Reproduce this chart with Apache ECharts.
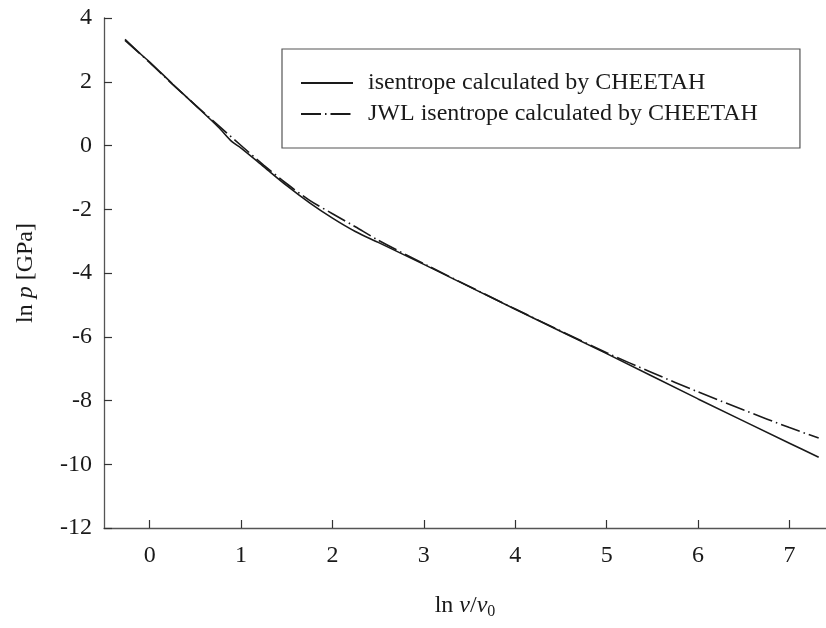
<!DOCTYPE html>
<html>
<head>
<meta charset="utf-8">
<script src="https://cdn.jsdelivr.net/npm/echarts@6/dist/echarts.min.js"></script>
<style>
  html, body { margin: 0; padding: 0; background: #fff; }
  #chart { width: 826px; height: 628px; }
</style>
</head>
<body>
<div id="chart"></div>
<script>
// isentrope calculated by CHEETAH (ln v/v0, ln p)
var cheetahX = [-0.27, -0.1, 0, 0.25, 0.5, 0.75, 0.9, 1.0, 1.25, 1.5, 1.75, 2.0, 2.25, 2.5, 3, 4, 5, 6, 7, 7.32]
var cheetahY = [3.33, 2.87, 2.62, 1.93, 1.26, 0.58, 0.12, -0.08, -0.67, -1.26, -1.8, -2.28, -2.7, -3.04, -3.73, -5.14, -6.53, -7.95, -9.34, -9.78]
// JWL isentrope calculated by CHEETAH
var jwlX = [-0.27, 0, 0.25, 0.5, 0.75, 1.0, 1.25, 1.5, 1.75, 2.0, 2.25, 2.5, 3, 4, 5, 5.5, 6, 6.5, 7, 7.32]
var jwlY = [3.3, 2.6, 1.92, 1.27, 0.63, 0.0, -0.62, -1.2, -1.72, -2.14, -2.55, -2.97, -3.71, -5.13, -6.5, -7.13, -7.73, -8.3, -8.85, -9.18]
var xTicks = [0, 1, 2, 3, 4, 5, 6, 7]

var seriesNames = ['isentrope calculated by CHEETAH', 'JWL isentrope calculated by CHEETAH']

function pairs(xs, ys) {
  return xs.map(function (x, i) { return [x, ys[i]] })
}

var font = 'Liberation Serif'
var ink = '#1a1a1a'

var chart = echarts.init(document.getElementById('chart'))
chart.setOption({
  animation: false,
  backgroundColor: '#fff',
  grid: {
    left: 104,
    right: 0,
    top: 18,
    bottom: 100
  },
  legend: {
    data: seriesNames,
    orient: 'vertical',
    left: 282,
    top: 49,
    padding: [22, 42, 22, 18],
    itemGap: 7,
    itemWidth: 52,
    itemHeight: 23,
    borderColor: '#555',
    borderWidth: 1.2,
    itemStyle: { opacity: 0 },
    textStyle: {
      fontFamily: font,
      fontSize: 24,
      color: ink,
      padding: [0, 0, 0, 10]
    }
  },
  xAxis: {
    type: 'value',
    min: -0.5,
    max: 7.4,
    name: 'ln {i|v}/{i|v}{sub|0}',
    nameLocation: 'middle',
    nameGap: 64,
    nameTextStyle: {
      fontFamily: font,
      fontSize: 24,
      color: ink,
      rich: {
        i: { fontFamily: font, fontSize: 24, fontStyle: 'italic', color: ink },
        sub: { fontFamily: font, fontSize: 16, color: ink, verticalAlign: 'bottom', padding: [12, 0, 0, 0] }
      }
    },
    splitLine: { show: false },
    axisLine: { onZero: false, lineStyle: { color: '#555', width: 1.3 } },
    axisTick: {
      inside: true,
      length: 8,
      customValues: xTicks,
      lineStyle: { color: '#333', width: 1.2 }
    },
    axisLabel: {
      customValues: xTicks,
      margin: 16,
      fontFamily: font,
      fontSize: 24,
      color: ink
    }
  },
  yAxis: {
    type: 'value',
    min: -12,
    max: 4,
    interval: 2,
    name: 'ln {i|p} [GPa]',
    nameLocation: 'middle',
    nameGap: 66,
    nameRotate: 90,
    nameTextStyle: {
      fontFamily: font,
      fontSize: 24,
      color: ink,
      rich: {
        i: { fontFamily: font, fontSize: 24, fontStyle: 'italic', color: ink }
      }
    },
    splitLine: { show: false },
    axisLine: { onZero: false, lineStyle: { color: '#555', width: 1.3 } },
    axisTick: {
      inside: true,
      length: 8,
      lineStyle: { color: '#333', width: 1.2 }
    },
    axisLabel: {
      margin: 12,
      fontFamily: font,
      fontSize: 24,
      color: ink
    }
  },
  series: [
    {
      name: seriesNames[0],
      type: 'line',
      smooth: 0.3,
      showSymbol: false,
      symbol: 'none',
      data: pairs(cheetahX, cheetahY),
      lineStyle: { color: ink, width: 1.6 },
      itemStyle: { color: ink }
    },
    {
      name: seriesNames[1],
      type: 'line',
      smooth: 0.3,
      showSymbol: false,
      symbol: 'none',
      data: pairs(jwlX, jwlY),
      lineStyle: { color: ink, width: 1.6, type: [20, 4, 1.5, 4] },
      itemStyle: { color: ink }
    }
  ]
})
</script>
</body>
</html>
